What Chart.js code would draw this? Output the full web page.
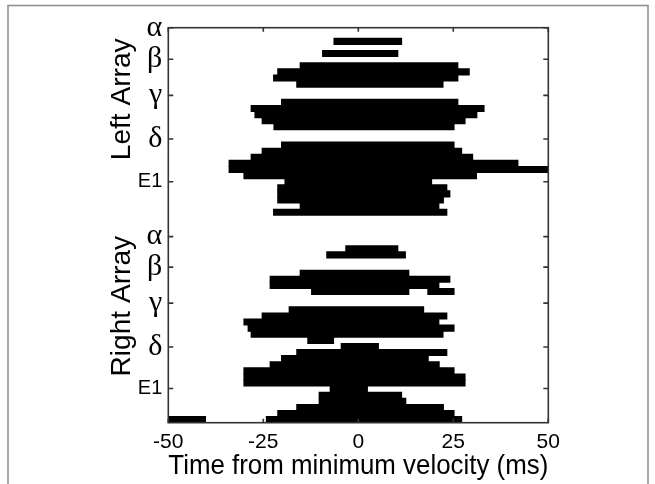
<!DOCTYPE html>
<html>
<head>
<meta charset="utf-8">
<script src="https://cdn.jsdelivr.net/npm/chart.js@4.4.0/dist/chart.umd.min.js"></script>
<style>
  html, body { margin: 0; padding: 0; background: #fff; }
</style>
</head>
<body>
<canvas id="myChart" width="655" height="484"></canvas>
<script>
// one row per electrode, top (left array alpha) to bottom (right array E1); null = no activity
const rowStart = [
    -6.4, null, -9.4, null, -15.3, -21.2, -22.3, -16.2, null, null,
    -20.2, -28.2, -27.2, -25.3, -22.2, null, null, -20.2, -25.3, -28.2,
    -34.0, -34.0, -30.1, -19.3, -21.2, -21.2, -21.2, -15.3, -22.3, null,
    null, null, null, null, -3.3, -8.3, null, null, -15.3, -23.2,
    -23.2, -12.3, null, null, -18.2, -25.3, -30.1, -29.0, -28.2, -13.3,
    -4.5, -16.2, -20.2, -23.2, -30.1, -30.1, -30.1, -7.4, -10.3, -10.3,
    -16.2, -21.2, -24.2
];
const rowEnd = [
    11.4, null, 10.4, null, 26.2, 29.2, 26.2, 22.3, null, null,
    26.2, 33.1, 31.2, 28.1, 25.2, null, null, 25.2, 27.2, 30.1,
    42.0, 50.0, 31.1, 19.3, 23.3, 24.1, 22.4, 21.2, 23.3, null,
    null, null, null, null, 10.4, 12.4, null, null, 13.3, 24.1,
    21.2, 13.3, null, null, 17.2, 23.3, 21.2, 25.2, 22.3, -6.5,
    5.3, 23.3, 18.4, 21.3, 25.2, 28.1, 28.1, 2.4, 11.4, 12.5,
    22.4, 25.2, 27.2
];
// second, separate segment on a few rows
const extraRows = [41, 62];
const extraStart = [18.3, -50.0];
const extraEnd = [25.2, -40.2];

// y tick positions (in row units) and their labels
const tickRows = [-1.74, 3.44, 9.35, 16.5, 23.5, 32.5, 37.5, 43.4, 50.6, 57.4];
const tickLabels = ['\u03b1', '\u03b2', '\u03b3', '\u03b4', 'E1', '\u03b1', '\u03b2', '\u03b3', '\u03b4', 'E1'];
const panelTitles = ['Left Array', 'Right Array'];
const panelTitleRows = [10.0, 43.9];
const xTicks = [-50, -25, 0, 25, 50];
const xTitle = 'Time from minimum velocity (ms)';

const mainData = [];
rowStart.forEach((s, i) => {
    if (s !== null) mainData.push({ y: i + 0.5, x: [s, rowEnd[i]] });
});
const extraData = extraRows.map((r, i) => ({ y: r + 0.5, x: [extraStart[i], extraEnd[i]] }));

// pick a font size so a text gets a given width
function fitSize(text, family, width) {
    const m = document.createElement('canvas').getContext('2d');
    m.font = '100px ' + family;
    return Math.round(100 * width / m.measureText(text).width * 10) / 10;
}
const xTitleSize = fitSize(xTitle, '"Liberation Sans"', 402);
const panelTitleSize = fitSize('Left Array', '"Liberation Sans"', 122);

// outer frame, box, inward tick marks and the two panel titles
const boxPlugin = {
    id: 'box',
    beforeDraw(chart) {
        const c = chart.ctx;
        c.save();
        c.strokeStyle = '#8c8c8c';
        c.lineWidth = 1.5;
        c.beginPath();
        c.moveTo(8, 484);
        c.lineTo(8, 5.5);
        c.lineTo(648, 5.5);
        c.lineTo(648, 484);
        c.stroke();
        c.restore();
    },
    afterDatasetsDraw(chart) {
        const c = chart.ctx;
        const a = chart.chartArea;
        const x = chart.scales.x;
        const y = chart.scales.y;
        c.save();
        c.strokeStyle = '#333';
        c.lineWidth = 1.6;
        c.strokeRect(a.left, a.top, a.right - a.left, a.bottom - a.top);
        c.beginPath();
        y.ticks.forEach(tk => {
            const py = y.getPixelForValue(tk.value);
            c.moveTo(a.left, py); c.lineTo(a.left + 5, py);
            c.moveTo(a.right, py); c.lineTo(a.right - 5, py);
        });
        x.ticks.forEach(tk => {
            const px = x.getPixelForValue(tk.value);
            c.moveTo(px, a.top); c.lineTo(px, a.top + 4);
            c.moveTo(px, a.bottom); c.lineTo(px, a.bottom - 4);
        });
        c.stroke();
        c.fillStyle = '#000';
        c.font = panelTitleSize + 'px "Liberation Sans"';
        c.textAlign = 'center';
        c.textBaseline = 'middle';
        panelTitles.forEach((txt, i) => {
            c.save();
            c.translate(a.left - 46, y.getPixelForValue(panelTitleRows[i]));
            c.rotate(-Math.PI / 2);
            c.fillText(txt, 0, 0);
            c.restore();
        });
        c.restore();
    }
};

const ctx = document.getElementById('myChart').getContext('2d');
const myChart = new Chart(ctx, {
    type: 'bar',
    data: {
        datasets: [{
            label: 'activity',
            data: mainData,
            backgroundColor: '#000',
            borderWidth: 0,
            inflateAmount: 0.5,
            grouped: false,
            barPercentage: 1,
            categoryPercentage: 1
        }, {
            label: 'activity (second segment)',
            data: extraData,
            backgroundColor: '#000',
            borderWidth: 0,
            inflateAmount: 0.5,
            grouped: false,
            barPercentage: 1,
            categoryPercentage: 1
        }]
    },
    options: {
        indexAxis: 'y',
        responsive: false,
        animation: false,
        layout: { padding: { left: 0, right: 106.7, top: 27.7, bottom: 0 } },
        plugins: {
            legend: { display: false },
            tooltip: { enabled: false }
        },
        scales: {
            x: {
                type: 'linear',
                min: -50,
                max: 50,
                offset: false,
                afterBuildTicks: (s) => { s.ticks = xTicks.map(v => ({ value: v })); },
                afterFit: (s) => { s.height = 61.3; },
                grid: { display: false, drawTicks: false },
                border: { display: false },
                ticks: {
                    color: '#000',
                    padding: 7,
                    font: { family: 'Liberation Sans', size: 21 }
                },
                title: {
                    display: true,
                    text: xTitle,
                    color: '#000',
                    font: { family: 'Liberation Sans', size: xTitleSize },
                    padding: { top: 0, bottom: 1 }
                }
            },
            y: {
                type: 'linear',
                reverse: true,
                offset: false,
                min: -1.74,
                max: 63.0,
                afterBuildTicks: (s) => { s.ticks = tickRows.map(v => ({ value: v })); },
                afterFit: (s) => { s.width = 168.3; },
                grid: { display: false, drawTicks: false, offset: false },
                border: { display: false },
                ticks: {
                    color: '#000',
                    padding: 6,
                    autoSkip: false,
                    callback: (value, index) => tickLabels[index],
                    font: (c) => tickLabels[c.index] === 'E1'
                        ? { family: 'Liberation Sans', size: 20 }
                        : { family: 'Liberation Serif', size: 30 }
                }
            }
        }
    },
    plugins: [boxPlugin]
});
</script>
</body>
</html>
